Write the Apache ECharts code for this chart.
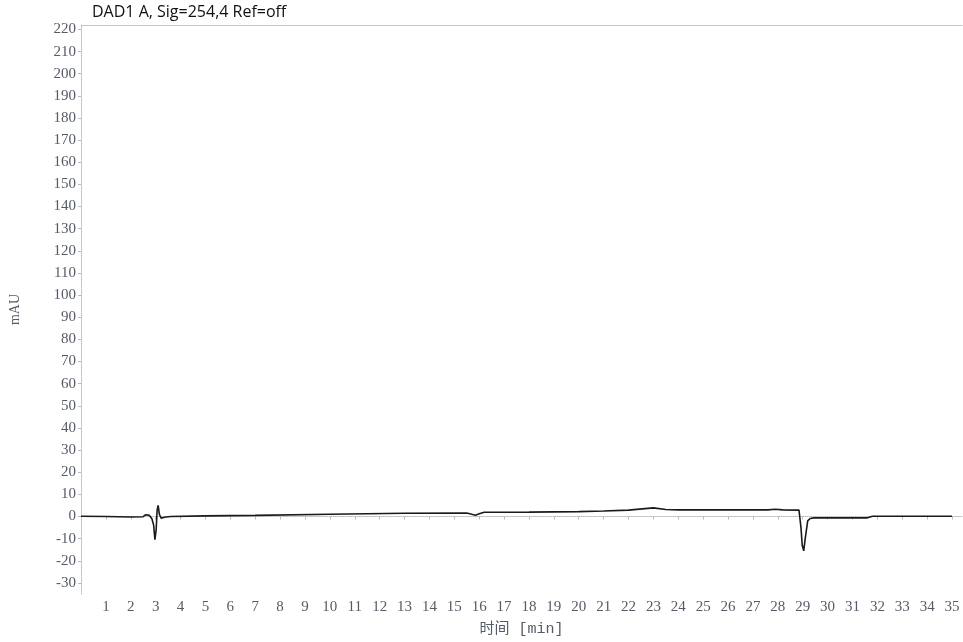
<!DOCTYPE html>
<html>
<head>
<meta charset="utf-8">
<script src="https://cdn.jsdelivr.net/npm/echarts@6/dist/echarts.min.js"></script>
<style>
html,body{margin:0;padding:0;background:#fff;}
#chart{width:963px;height:642px;}
</style>
</head>
<body>
<div id="chart"></div>
<script>
// 色谱数据（时间 min, 信号 mAU）
var times = [0, 1, 2, 2.5, 2.6, 2.66, 2.75, 2.85, 2.92, 2.97, 3.02, 3.06, 3.1, 3.15, 3.22, 3.35, 3.6, 5, 7, 10, 13, 15.5, 15.7, 15.85, 16.0, 16.2, 18, 20, 21, 22, 23, 23.5, 24, 26, 27.6, 27.9, 28.2, 28.85, 28.93, 28.98, 29.04, 29.1, 29.2, 29.3, 29.45, 30, 31.6, 31.8, 33, 35];
var signal = [0.1, 0, -0.2, -0.1, 0.8, 1.4, 0.5, -1, -4, -10.5, -6, 3, 5, 1, -0.8, -0.3, 0, 0.3, 0.5, 1, 1.5, 1.6, 1.0, 0.6, 1.2, 1.9, 2.0, 2.2, 2.5, 2.9, 3.9, 3.2, 3.0, 3.0, 3.0, 3.3, 3.0, 2.9, -5, -13, -15.5, -10, -2, -0.9, -0.6, -0.6, -0.6, 0.1, 0.1, 0.1];
var yTicks = [-30, -20, -10, 0, 10, 20, 30, 40, 50, 60, 70, 80, 90, 100, 110, 120, 130, 140, 150, 160, 170, 180, 190, 200, 210, 220];
var xTicks = [1, 2, 3, 4, 5, 6, 7, 8, 9, 10, 11, 12, 13, 14, 15, 16, 17, 18, 19, 20, 21, 22, 23, 24, 25, 26, 27, 28, 29, 30, 31, 32, 33, 34, 35];

var points = [];
for (var i = 0; i < times.length; i++) {
  points.push([times[i], signal[i]]);
}

var labelFont = {
  fontFamily: 'Liberation Serif',
  fontSize: 15,
  color: '#555b66'
};
var axisGray = '#b8bcc2';

var myChart = echarts.init(document.getElementById('chart'));
myChart.setOption({
  animation: false,
  title: {
    text: 'DAD1 A, Sig=254,4 Ref=off',
    left: 87,
    top: -1,
    textStyle: {fontFamily: 'Open Sans', fontSize: 16, fontWeight: 'normal', color: '#111'}
  },
  grid: {left: 81, right: 1, top: 25, bottom: 48, outerBoundsMode: 'none'},
  xAxis: [{
    type: 'value',
    min: 0,
    max: 35.4,
    name: '时间 [min]',
    nameLocation: 'middle',
    nameGap: 28,
    nameTextStyle: {fontFamily: 'Liberation Mono, Noto Sans CJK SC', fontSize: 15, color: '#555b66'},
    axisLine: {lineStyle: {color: axisGray, type: 'dotted'}},
    axisTick: {customValues: xTicks, length: 3, lineStyle: {color: axisGray}},
    axisLabel: Object.assign({customValues: xTicks, margin: 6}, labelFont),
    splitLine: {show: false}
  }, {
    type: 'value',
    position: 'top',
    min: 0,
    max: 35.4,
    axisLine: {show: true, lineStyle: {color: axisGray, type: 'dotted'}},
    axisTick: {show: false},
    axisLabel: {show: false},
    splitLine: {show: false}
  }],
  yAxis: {
    type: 'value',
    min: -35,
    max: 222,
    name: 'mAU',
    nameLocation: 'middle',
    nameGap: 59,
    nameRotate: 90,
    nameTextStyle: {fontFamily: 'Liberation Serif', fontSize: 14, color: '#555b66'},
    axisLine: {show: true, lineStyle: {color: axisGray, type: 'dotted'}},
    axisTick: {show: true, customValues: yTicks, length: 3, lineStyle: {color: axisGray}},
    axisLabel: Object.assign({customValues: yTicks, margin: 5}, labelFont),
    splitLine: {show: false}
  },
  series: [{
    type: 'line',
    data: points,
    showSymbol: false,
    lineStyle: {color: '#1a1a1a', width: 1.6}
  }]
});
</script>
</body>
</html>
